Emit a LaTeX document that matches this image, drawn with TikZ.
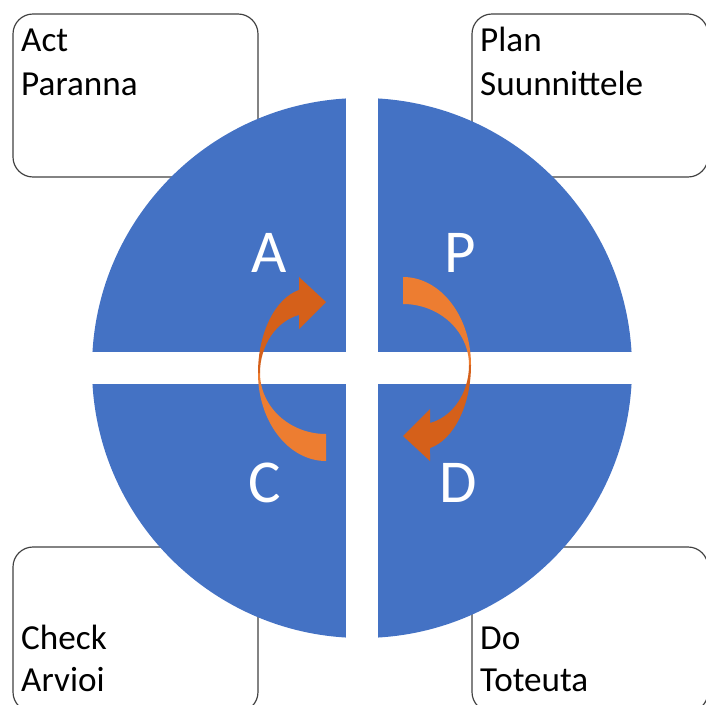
\documentclass[tikz,border=0pt]{standalone}
\usepackage{fontspec}
\setmainfont{Carlito}
\definecolor{pdcablue}{HTML}{4472C4}
\definecolor{arrowlight}{HTML}{ED7D31}
\definecolor{arrowdark}{HTML}{D5601A}
\begin{document}
\begin{tikzpicture}[x=0.03cm, y=-0.03cm,
    box/.style={draw=black!75, line width=1pt, rounded corners=0.6cm},
    boxtext/.style={anchor=base west, inner sep=0pt, font=\fontsize{30}{36}\selectfont},
    letter/.style={anchor=base, inner sep=0pt, text=white, font=\fontsize{52}{60}\selectfont}]
        \useasboundingbox (0,0) rectangle (706,704);
        \clip (0,0) rectangle (706,704);

        % Draw corner boxes
        \draw[box] (13,14) rectangle (258,177);
        \draw[box] (472,14) rectangle (708,177);
        \draw[box] (13,547) rectangle (258,712);
        \draw[box] (472,547) rectangle (708,712);

        % Draw circle with white cross
        \fill[pdcablue] (362,368) circle[radius=270];
        \fill[white] (346,90) rectangle (378,646);
        \fill[white] (85,352) rectangle (640,384);

        % Curved arrows, second one turned half round
        \foreach \turn in {0,180} {
            \begin{scope}[rotate around={\turn:(364.5,369)}]
                \fill[arrowlight] (326,461) arc[start angle=90, end angle=180, x radius=68, y radius=88]
                    -- (260,373) arc[start angle=180, end angle=90, x radius=66, y radius=61] -- cycle;
                \fill[arrowdark] (258,373) arc[start angle=180, end angle=257.8, x radius=52, y radius=85]
                    -- (299,277) -- (326,302) -- (299,329) -- (299,315)
                    arc[start angle=257.3, end angle=180, x radius=50, y radius=59.5] -- cycle;
            \end{scope}
        }

        % Quadrant letters
        \node[letter] (aletter) at (269,272) {A};
        \node[letter] (pletter) at (460,272) {P};
        \node[letter] (cletter) at (265,502) {C};
        \node[letter] (dletter) at (458,502) {D};

        % Box texts
        \node[boxtext] (actname) at (21,52) {Act};
        \node[boxtext] (actfi) at (21,96) {Paranna};
        \node[boxtext] (planname) at (480,52) {Plan};
        \node[boxtext] (planfi) at (480,96) {Suunnittele};
        \node[boxtext] (checkname) at (21,649) {Check};
        \node[boxtext] (checkfi) at (21,691) {Arvioi};
        \node[boxtext] (doname) at (480,649) {Do};
        \node[boxtext] (dofi) at (480,691) {Toteuta};
\end{tikzpicture}
\end{document}
